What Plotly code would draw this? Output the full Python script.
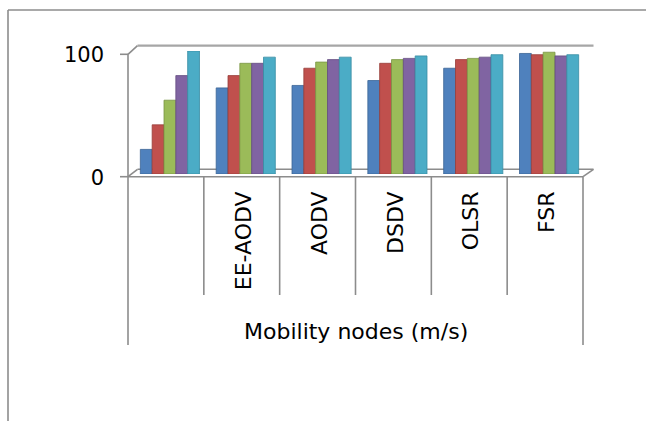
import plotly.graph_objects as go

# Category groups along the x axis (first group holds the node speeds themselves)
categories = ["", "EE-AODV", "AODV", "DSDV", "OLSR", "FSR"]

# One series per mobility speed level
speed_20 = [20, 70, 72, 76, 86, 98]
speed_40 = [40, 80, 86, 90, 93, 97]
speed_60 = [60, 90, 91, 93, 94, 99]
speed_80 = [80, 90, 93, 94, 95, 96]
speed_100 = [100, 95, 95, 96, 97, 97]
series_names = ["20 m/s", "40 m/s", "60 m/s", "80 m/s", "100 m/s"]

y_ticks = [0, 100]
x_title = "Mobility nodes (m/s)"

series = [speed_20, speed_40, speed_60, speed_80, speed_100]
fills = ["#4F81BD", "#C0504D", "#9BBB59", "#8064A2", "#4BACC6"]
edges = ["#3B6596", "#973D3A", "#7A9645", "#634D80", "#388DA3"]

W, H = 646, 421
L, R, T, B = 132, 59, 51, 247
PW, PH = W - L - R, H - T - B
FONT = "DejaVu Sans"


def fx(px):
    """pixel x -> paper x"""
    return (px - L) / PW


def fy(py):
    """pixel y -> paper y"""
    return (H - B - py) / PH


fig = go.Figure()
for name, vals, c, e in zip(series_names, series, fills, edges):
    fig.add_trace(go.Bar(
        x=list(range(len(categories))), y=vals, name=name,
        marker=dict(color=c, line=dict(color=e, width=0.8)),
        showlegend=False,
    ))

# 3-D style frame: floor, side wall, back wall edge, category dividers
grey = "#8c8c8c"
front0, front100 = 176.7, 54.3
back0, back100 = 169.3, 45.7
xl, xr = 128.0, 583.0
dx = 9.5
step = (xr - xl) / len(categories)

segments = [
    ((8, 10), (8, 430)),                      # chart border left
    ((8, 10), (650, 10)),                     # chart border top
    ((xl, front100), (xl, 345)),              # value axis + outer divider
    ((xr, front0), (xr, 345)),                # right outer divider
    ((120, front100), (xl, front100)),        # tick 100
    ((120, front0), (xl, front0)),            # tick 0
    ((xl, front0), (xr, front0)),             # floor front edge
    ((xr, front0), (xr + dx + 1, back0)),     # floor right edge
    ((xl + dx, back0), (xr + dx + 1, back0)), # floor back edge
    ((xl, front0), (xl + dx, back0)),         # floor left edge
    ((xl, front100), (xl + dx, back100)),     # side wall top
]
for k in range(1, len(categories)):
    xk = xl + step * k
    segments.append(((xk, front0), (xk, 295)))

shapes = []
for (x0, y0), (x1, y1) in segments:
    shapes.append(dict(type="line", xref="paper", yref="paper",
                       x0=fx(x0), y0=fy(y0), x1=fx(x1), y1=fy(y1),
                       line=dict(color=grey, width=1.6), layer="below"))
# back wall top edge
shapes.append(dict(type="line", xref="paper", yref="paper",
                   x0=fx(xl + dx), y0=fy(back100), x1=fx(xr + dx + 1), y1=fy(back100),
                   line=dict(color="#a6a6a6", width=2.2), layer="below"))

fig.update_layout(
    width=W, height=H,
    margin=dict(l=L, r=R, t=T, b=B, pad=0),
    paper_bgcolor="white", plot_bgcolor="white",
    barmode="group", bargap=0.22, bargroupgap=0,
    font=dict(family=FONT, size=20, color="black"),
    shapes=shapes,
    annotations=[dict(
        text=x_title, xref="paper", yref="paper",
        x=fx((xl + xr) / 2), y=fy(331.5), xanchor="center", yanchor="middle",
        showarrow=False, font=dict(family=FONT, size=22, color="black"),
    )],
)
fig.update_xaxes(
    range=[-0.5, len(categories) - 0.5],
    tickvals=list(range(len(categories))), ticktext=categories,
    tickangle=-90, ticks="", showline=False, showgrid=False, zeroline=False,
    ticklabelstandoff=12, ticklabelshift=-2,
    tickfont=dict(family=FONT, size=22, color="black"),
)
fig.update_yaxes(
    range=[0, 100], tickvals=y_ticks, ticks="",
    showline=False, showgrid=False, zeroline=False,
    ticklabelstandoff=27, ticklabelshift=4,
    tickfont=dict(family=FONT, size=21, color="black"),
)

fig.write_html("out.html")
